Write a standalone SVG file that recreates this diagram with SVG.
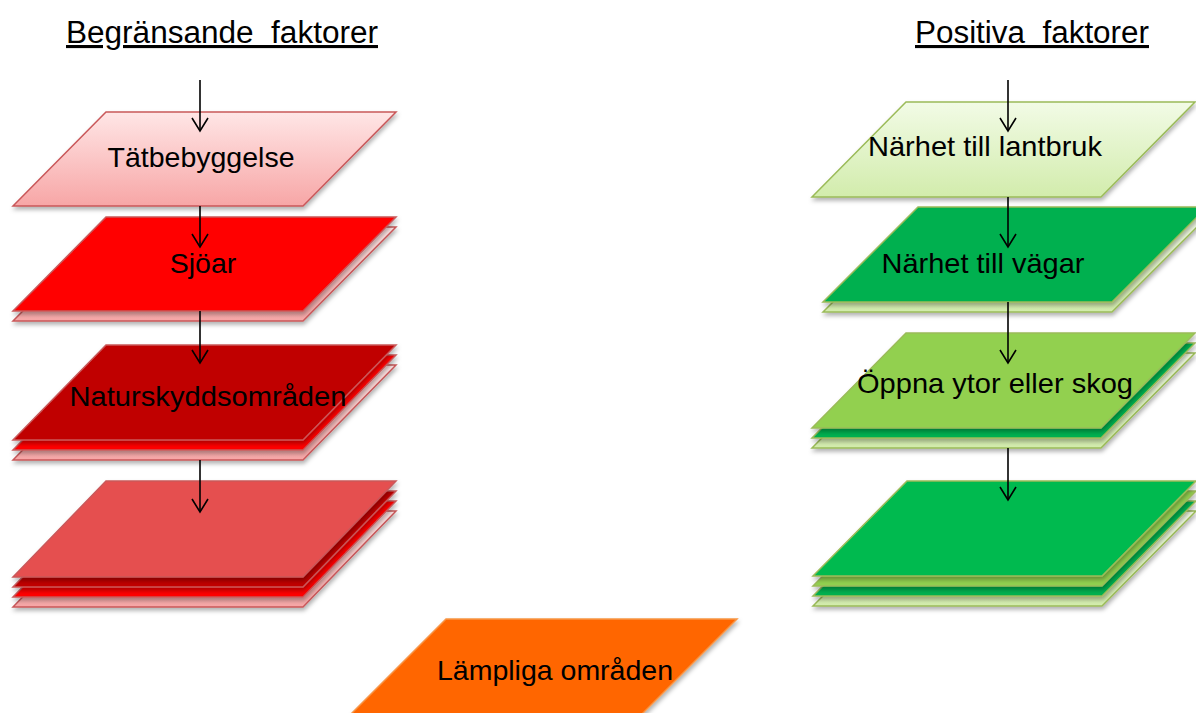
<svg xmlns="http://www.w3.org/2000/svg" width="1196" height="713" viewBox="0 0 1196 713">
<defs>
<linearGradient id="gPink" x1="0" y1="0" x2="0" y2="1">
<stop offset="0" stop-color="#FFE6E6"/>
<stop offset="1" stop-color="#F7A6A6"/>
</linearGradient>
<linearGradient id="gLight" x1="0" y1="0" x2="0" y2="1">
<stop offset="0" stop-color="#F2FBE6"/>
<stop offset="1" stop-color="#D2ECAC"/>
</linearGradient>
<filter id="sh" x="-10%" y="-10%" width="125%" height="140%">
<feDropShadow dx="1" dy="3" stdDeviation="2" flood-color="#000" flood-opacity="0.3"/>
</filter>
<marker id="ah" markerUnits="userSpaceOnUse" markerWidth="20" markerHeight="20" viewBox="-15 -10 17 20" refX="0" refY="0" orient="auto">
<path d="M-13,-8 L0,0 L-13,8" fill="none" stroke="#000" stroke-width="1.6"/>
</marker>
</defs>
<style>
.r{stroke:#C9585A;stroke-width:1.5;filter:url(#sh)}
.g{stroke:#9BBB59;stroke-width:1.5;filter:url(#sh)}
.pink{fill:url(#gPink)}
.red{fill:#FF0000}
.dred{fill:#C00000}
.mred{fill:#E55050}
.light{fill:url(#gLight)}
.dg{fill:#00B050}
.lg{fill:#92D050}
.bg{fill:#00BA50}
.org{fill:#FF6600;stroke:#F79646;stroke-width:1.5;filter:url(#sh)}
text{font-family:"Liberation Sans",Arial,sans-serif;fill:#000}
.t{font-size:28.5px;text-anchor:middle}
.h{font-size:31px;text-decoration:underline}
.c{stroke:#000;stroke-width:1.6;fill:none;marker-end:url(#ah)}
</style>
<rect width="1196" height="713" fill="#fff"/>

<g id="title-left"><text class="h" x="66" y="43" textLength="312" lengthAdjust="spacingAndGlyphs" xml:space="preserve">Begränsande  faktorer</text></g>
<g id="title-right"><text class="h" x="915" y="43" textLength="234" lengthAdjust="spacingAndGlyphs" xml:space="preserve">Positiva  faktorer</text></g>

<g id="tatbebyggelse">
<polygon class="r pink" points="106,112 396,112 303,206 13,206"/>
<text class="t" x="201" y="167" textLength="187" lengthAdjust="spacingAndGlyphs">Tätbebyggelse</text>
</g>
<g id="sjoar">
<polygon class="r pink" points="106,227 396,227 303,321 13,321"/>
<polygon class="r red" points="106,217 396,217 303,311 13,311"/>
<text class="t" x="203" y="273">Sjöar</text>
</g>
<g id="naturskydd">
<polygon class="r pink" points="106,365 396,365 303,460 13,460"/>
<polygon class="r red" points="106,355 396,355 303,450 13,450"/>
<polygon class="r dred" points="106,345 396,345 303,440 13,440"/>
<text class="t" x="208" y="406" textLength="277" lengthAdjust="spacingAndGlyphs">Naturskyddsområden</text>
</g>
<g id="begr-resultat">
<polygon class="r pink" points="106,511 396,511 303,607 13,607"/>
<polygon class="r red" points="106,501 396,501 303,597 13,597"/>
<polygon class="r dred" points="106,491 396,491 303,587 13,587"/>
<polygon class="r mred" points="106,481 396,481 303,577 13,577"/>
</g>

<g id="lantbruk">
<polygon class="g light" points="906,102 1195,102 1101,197 812,197"/>
<text class="t" x="985" y="156" textLength="234" lengthAdjust="spacingAndGlyphs">Närhet till lantbruk</text>
</g>
<g id="vagar">
<polygon class="g light" points="918,217 1207,217 1112,312 823,312"/>
<polygon class="g dg" points="918,207 1207,207 1112,302 823,302"/>
<text class="t" x="983" y="273" textLength="203" lengthAdjust="spacingAndGlyphs">Närhet till vägar</text>
</g>
<g id="oppna">
<polygon class="g light" points="906,353 1195,353 1101,448 812,448"/>
<polygon class="g dg" points="906,343 1195,343 1101,438 812,438"/>
<polygon class="g lg" points="906,333 1195,333 1101,428 812,428"/>
<text class="t" x="995" y="393" textLength="276" lengthAdjust="spacingAndGlyphs">Öppna ytor eller skog</text>
</g>
<g id="pos-resultat">
<polygon class="g light" points="907,511 1196,511 1102,606 813,606"/>
<polygon class="g dg" points="907,501 1196,501 1102,596 813,596"/>
<polygon class="g lg" points="907,491 1196,491 1102,586 813,586"/>
<polygon class="g bg" points="907,481 1196,481 1102,576 813,576"/>
</g>

<g id="lampliga">
<polygon class="org" points="446,619 737,619 642,714 351,714"/>
<text class="t" x="555" y="680" textLength="236" lengthAdjust="spacingAndGlyphs">Lämpliga områden</text>
</g>

<g id="connectors">
<line class="c" x1="200" y1="80" x2="200" y2="131"/>
<line class="c" x1="200" y1="206" x2="200" y2="247"/>
<line class="c" x1="200" y1="311" x2="200" y2="363"/>
<line class="c" x1="200" y1="460" x2="200" y2="512"/>
<line class="c" x1="1008" y1="80" x2="1008" y2="131"/>
<line class="c" x1="1008" y1="197" x2="1008" y2="247"/>
<line class="c" x1="1008" y1="302" x2="1008" y2="363"/>
<line class="c" x1="1008" y1="448" x2="1008" y2="500"/>
</g>
</svg>
